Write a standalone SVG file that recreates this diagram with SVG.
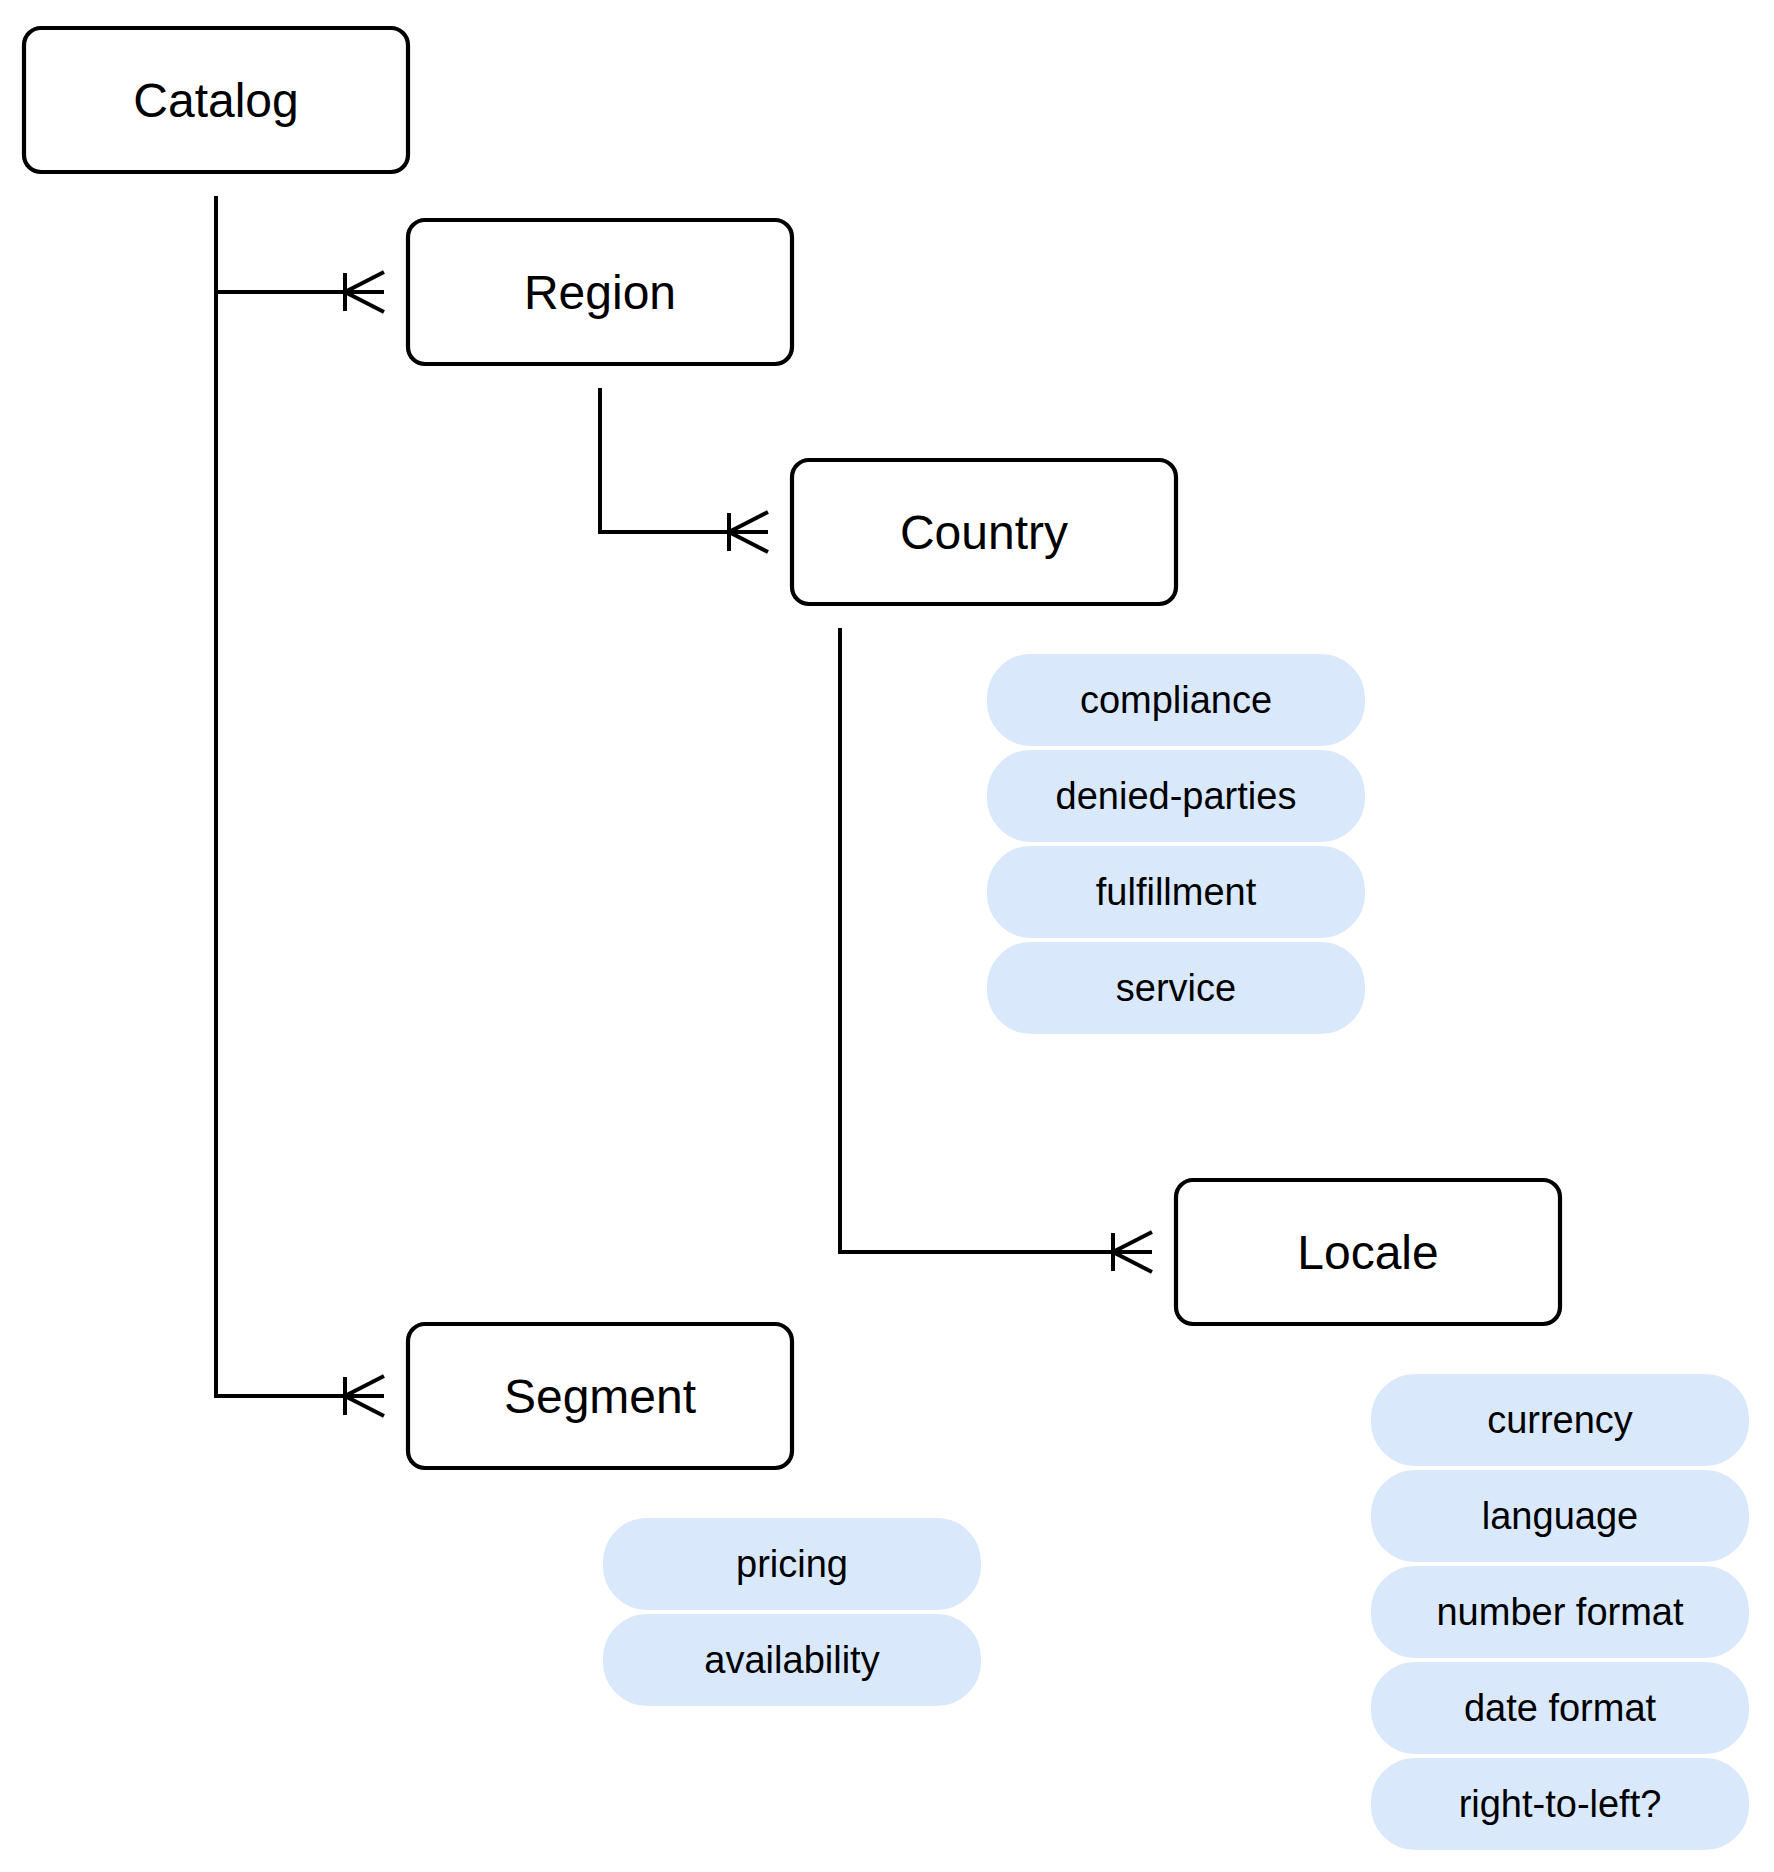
<svg xmlns="http://www.w3.org/2000/svg" width="1774" height="1872" viewBox="0 0 1774 1872">
<style>
.node rect{fill:#ffffff;stroke:#000000;stroke-width:4.2}
.node text{font-family:"Liberation Sans",Arial,Helvetica,sans-serif;font-size:48px;fill:#000000;text-anchor:middle}
.pill rect{fill:#dae8fc;stroke:#ffffff;stroke-width:4}
.pill text{font-family:"Liberation Sans",Arial,Helvetica,sans-serif;font-size:38px;fill:#000000;text-anchor:middle}
.conn path{fill:none;stroke:#000000;stroke-width:4;marker-end:url(#many)}
</style>
<defs>
<marker id="many" markerUnits="userSpaceOnUse" markerWidth="44" markerHeight="44" viewBox="0 0 44 44" refX="41" refY="22" orient="auto">
<path d="M41 2 L2 22 L41 42 M2 3 V41" fill="none" stroke="#000000" stroke-width="4"/>
</marker>
</defs>
<rect width="1774" height="1872" fill="#ffffff"/>
<g id="connectors" class="conn">
<path d="M216 196 V292 H384"/>
<path d="M216 196 V1396 H384"/>
<path d="M600 388 V532 H768"/>
<path d="M840 628 V1252 H1152"/>
</g>
<g id="catalog" class="node"><rect x="24" y="28" width="384" height="144" rx="17"/><text x="216" y="117">Catalog</text></g>
<g id="region" class="node"><rect x="408" y="220" width="384" height="144" rx="17"/><text x="600" y="309">Region</text></g>
<g id="country" class="node"><rect x="792" y="460" width="384" height="144" rx="17"/><text x="984" y="549">Country</text></g>
<g id="locale" class="node"><rect x="1176" y="1180" width="384" height="144" rx="17"/><text x="1368" y="1269">Locale</text></g>
<g id="segment" class="node"><rect x="408" y="1324" width="384" height="144" rx="17"/><text x="600" y="1413">Segment</text></g>
<g id="country-attrs">
<g id="compliance" class="pill"><rect x="985" y="652" width="382" height="96" rx="46"/><text x="1176" y="713">compliance</text></g>
<g id="denied-parties" class="pill"><rect x="985" y="748" width="382" height="96" rx="46"/><text x="1176" y="809">denied-parties</text></g>
<g id="fulfillment" class="pill"><rect x="985" y="844" width="382" height="96" rx="46"/><text x="1176" y="905">fulfillment</text></g>
<g id="service" class="pill"><rect x="985" y="940" width="382" height="96" rx="46"/><text x="1176" y="1001">service</text></g>
</g>
<g id="segment-attrs">
<g id="pricing" class="pill"><rect x="601" y="1516" width="382" height="96" rx="46"/><text x="792" y="1577">pricing</text></g>
<g id="availability" class="pill"><rect x="601" y="1612" width="382" height="96" rx="46"/><text x="792" y="1673">availability</text></g>
</g>
<g id="locale-attrs">
<g id="currency" class="pill"><rect x="1369" y="1372" width="382" height="96" rx="46"/><text x="1560" y="1433">currency</text></g>
<g id="language" class="pill"><rect x="1369" y="1468" width="382" height="96" rx="46"/><text x="1560" y="1529">language</text></g>
<g id="number-format" class="pill"><rect x="1369" y="1564" width="382" height="96" rx="46"/><text x="1560" y="1625">number format</text></g>
<g id="date-format" class="pill"><rect x="1369" y="1660" width="382" height="96" rx="46"/><text x="1560" y="1721">date format</text></g>
<g id="right-to-left" class="pill"><rect x="1369" y="1756" width="382" height="96" rx="46"/><text x="1560" y="1817">right-to-left?</text></g>
</g>
</svg>
